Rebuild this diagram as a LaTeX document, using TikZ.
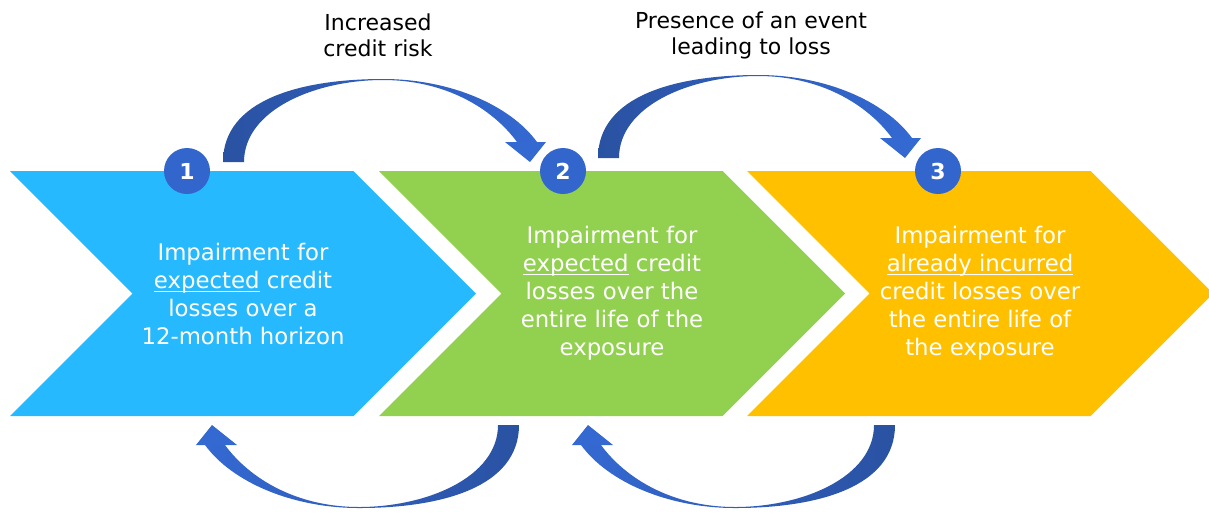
\documentclass[tikz,border=0pt]{standalone}
\usepackage{fontspec}
\setmainfont{DejaVu Sans}
\usepackage{tikz}
\usetikzlibrary{calc,positioning}

\definecolor{stageblue}{HTML}{27B9FE}
\definecolor{stagegreen}{HTML}{92D050}
\definecolor{stageorange}{HTML}{FFC000}
\definecolor{numblue}{HTML}{3366CC}
\definecolor{arrowdark}{HTML}{2A52A2}
\definecolor{arrowlight}{HTML}{3469D2}

% underline sitting just under the baseline
\newcommand{\undl}[1]{\setbox0\hbox{#1}\rlap{\rule[-1.8pt]{\wd0}{0.5pt}}#1}

\begin{document}
\begin{tikzpicture}[
    x=0.5pt, y=-0.5pt,
    stage/.style={
      minimum width=233pt, minimum height=122.5pt,
      inner sep=0pt, align=center,
      text=white,
      font=\fontsize{11.4}{14}\selectfont,
      path picture={
        \fill[#1] (path picture bounding box.north west)
          -- ($(path picture bounding box.north east)+(-122.5,0)$)
          -- (path picture bounding box.east)
          -- ($(path picture bounding box.south east)+(-122.5,0)$)
          -- (path picture bounding box.south west)
          -- ($(path picture bounding box.west)+(122.5,0)$) -- cycle;
      }
    },
    num/.style={
      circle, fill=numblue, minimum size=23pt, inner sep=0pt,
      text=white, font=\bfseries\fontsize{11}{11}\selectfont
    },
    lbl/.style={align=center, font=\fontsize{11}{13}\selectfont},
    arrowfill/.style={left color=arrowdark, right color=arrowlight},
    backfill/.style={arrowfill/.style={left color=arrowlight, right color=arrowdark}},
    bend/.pic={
      % shaft
      \shade[arrowfill] (-148,0)
        .. controls (-148,-62) and (-71,-83) .. (12,-83)
        .. controls (79,-83) and (139,-57) .. (166,-20)
        -- (146,-20)
        .. controls (121,-54) and (74,-82) .. (12,-82)
        .. controls (-56,-82) and (-127,-52) .. (-127,0) -- cycle;
      % head
      \fill[arrowlight] (134,-20) -- (175,-20) -- (159,0) -- cycle;
    }
  ]

  \useasboundingbox (0,0) rectangle (1209,526);

  % Stages
  \node[stage=stageblue] (s1) at (243,293.5)
    {Impairment for\\\undl{expected} credit\\losses over a\\12-month horizon};
  \node[stage=stagegreen] (s2) at (612,293.5)
    {Impairment for\\\undl{expected} credit\\losses over the\\entire life of the\\exposure};
  \node[stage=stageorange] (s3) at (980,293.5)
    {Impairment for\\\undl{already incurred}\\credit losses over\\the entire life of\\the exposure};

  % Numbers
  \node[num] (n1) at (187,171) {1};
  \node[num] (n2) at (563,171) {2};
  \node[num] (n3) at (938,171) {3};

  % Labels above the arrows
  \node[lbl] (up1) at (378,35) {Increased\\credit risk};
  \node[lbl] (up2) at (751,35) {Presence of an event\\leading to loss};

  % Curved arrows
  \pic at (371,162) {bend};
  \pic at (746,158) {bend};
  \pic[rotate=180, backfill] at (371,425) {bend};
  \pic[rotate=180, backfill] at (747,425) {bend};

\end{tikzpicture}
\end{document}
